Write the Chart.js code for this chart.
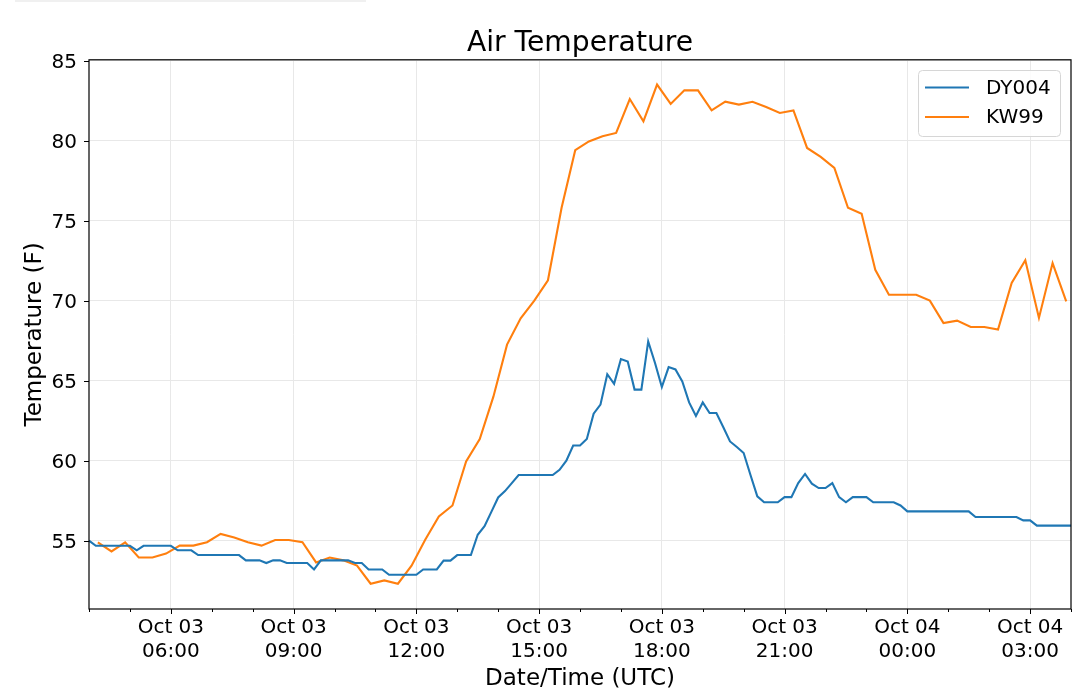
<!DOCTYPE html>
<html>
<head>
<meta charset="utf-8">
<title>Air Temperature</title>
<script src="https://cdn.jsdelivr.net/npm/chart.js@4.4.0/dist/chart.umd.min.js"></script>
<style>
html, body { margin: 0; padding: 0; background: #fff; }
#wrap { position: relative; width: 1080px; height: 694px; }
#strip { position: absolute; left: 15px; top: 0; width: 351px; height: 2px; background: #f0f0f0; }
canvas { position: absolute; left: 0; top: 0; }
</style>
</head>
<body>
<div id="wrap">
  <div id="strip"></div>
  <canvas id="temp-chart" width="1080" height="694"></canvas>
</div>
<script>
// station names
const stations = ['DY004', 'KW99'];
const chartTitle = 'Air Temperature';

// sampling: hours since Oct 03 00:00 UTC of first sample, minutes between samples
const dyStart = 4, dyStepMin = 10;
const kwStart = 4 + 13 / 60, kwStepMin = 20;

// DY004 air temperature (F), every 10 min from 04:00
const dyTemps = [
    55.0, 54.68, 54.68, 54.68, 54.68, 54.68, 54.68, 54.4, 54.68, 54.68,
    54.68, 54.68, 54.68, 54.4, 54.4, 54.4, 54.1, 54.1, 54.1, 54.1,
    54.1, 54.1, 54.1, 53.77, 53.77, 53.77, 53.6, 53.77, 53.77, 53.6,
    53.6, 53.6, 53.6, 53.2, 53.77, 53.77, 53.77, 53.77, 53.77, 53.6,
    53.6, 53.2, 53.2, 53.2, 52.87, 52.87, 52.87, 52.87, 52.87, 53.2,
    53.2, 53.2, 53.75, 53.75, 54.1, 54.1, 54.1, 55.37, 55.9, 56.8,
    57.7, 58.1, 58.6, 59.1, 59.1, 59.1, 59.1, 59.1, 59.1, 59.43,
    60.0, 60.95, 60.95, 61.35, 62.94, 63.5, 65.4, 64.8, 66.35, 66.2,
    64.44, 64.44, 67.45, 66.1, 64.6, 65.85, 65.7, 64.95, 63.64, 62.8,
    63.64, 62.98, 62.98, 62.1, 61.2, 60.85, 60.48, 59.1, 57.77, 57.4,
    57.4, 57.4, 57.72, 57.72, 58.6, 59.17, 58.56, 58.29, 58.29, 58.6,
    57.72, 57.4, 57.72, 57.72, 57.72, 57.4, 57.4, 57.4, 57.4, 57.2,
    56.83, 56.83, 56.83, 56.83, 56.83, 56.83, 56.83, 56.83, 56.83, 56.83,
    56.48, 56.48, 56.48, 56.48, 56.48, 56.48, 56.48, 56.27, 56.27, 55.94,
    55.94, 55.94, 55.94, 55.94, 55.94
];

// KW99 air temperature (F), every 20 min from 04:13
const kwTemps = [
    54.9, 54.33, 54.9, 53.95, 53.95, 54.19, 54.69, 54.69, 54.9, 55.42,
    55.2, 54.9, 54.69, 55.04, 55.04, 54.9, 53.64, 53.95, 53.77, 53.44,
    52.31, 52.52, 52.31, 53.44, 55.06, 56.52, 57.2, 59.95, 61.35, 64.0,
    67.25, 68.9, 70.0, 71.27, 75.8, 79.4, 79.95, 80.27, 80.48, 82.6,
    81.2, 83.5, 82.29, 83.14, 83.14, 81.89, 82.43, 82.25, 82.43, 82.1,
    81.73, 81.89, 79.54, 78.98, 78.29, 75.8, 75.43, 71.93, 70.37, 70.37,
    70.37, 70.0, 68.6, 68.75, 68.35, 68.35, 68.19, 71.1, 72.52, 68.92,
    72.35, 69.95
];

// axes
const xHours = [4, 5, 6, 7, 8, 9, 10, 11, 12, 13, 14, 15, 16, 17, 18, 19, 20, 21, 22, 23, 24, 25, 26, 27, 28];
const xTickHours = [6, 9, 12, 15, 18, 21, 24, 27];
const xTickLabels = [
    ['Oct 03', '06:00'], ['Oct 03', '09:00'], ['Oct 03', '12:00'], ['Oct 03', '15:00'],
    ['Oct 03', '18:00'], ['Oct 03', '21:00'], ['Oct 04', '00:00'], ['Oct 04', '03:00']
];
const yTicks = [55, 60, 65, 70, 75, 80, 85];

const FONT = 'DejaVu Sans';
const GRID = '#e8e8e8';

function toPoints(start, stepMin, temps) {
    return temps.map((t, i) => ({x: start + i * stepMin / 60, y: t}));
}

// spines, tick marks and the title centred over the plot area
const framePlugin = {
    id: 'frame',
    afterDraw(chart) {
        const {ctx, chartArea: a, scales: {x, y}} = chart;
        ctx.save();
        ctx.strokeStyle = '#000';
        ctx.lineWidth = 1.2;
        ctx.strokeRect(a.left, a.top, a.right - a.left, a.bottom - a.top);
        ctx.lineWidth = 1;
        ctx.beginPath();
        xHours.forEach(h => {
            const px = Math.round(x.getPixelForValue(h)) + 0.5;
            const len = xTickHours.includes(h) ? 5 : 3;
            ctx.moveTo(px, a.bottom);
            ctx.lineTo(px, a.bottom + len);
        });
        yTicks.forEach(v => {
            const py = Math.round(y.getPixelForValue(v)) + 0.5;
            ctx.moveTo(a.left - 5, py);
            ctx.lineTo(a.left, py);
        });
        ctx.stroke();

        ctx.font = '28.2px "' + FONT + '"';
        ctx.fillStyle = '#000';
        ctx.textAlign = 'center';
        ctx.textBaseline = 'middle';
        ctx.fillText(chartTitle, (a.left + a.right) / 2, 43.6);
        ctx.restore();
    }
};

// legend box in the upper right corner of the plot
const boxLegend = {
    id: 'boxLegend',
    afterDraw(chart) {
        const ctx = chart.ctx;
        const bx = 918.5, by = 70.5, bw = 142, bh = 66, r = 4;
        ctx.save();
        ctx.beginPath();
        ctx.moveTo(bx + r, by);
        ctx.arcTo(bx + bw, by, bx + bw, by + bh, r);
        ctx.arcTo(bx + bw, by + bh, bx, by + bh, r);
        ctx.arcTo(bx, by + bh, bx, by, r);
        ctx.arcTo(bx, by, bx + bw, by, r);
        ctx.closePath();
        ctx.fillStyle = 'rgba(255,255,255,0.85)';
        ctx.fill();
        ctx.strokeStyle = '#d6d6d6';
        ctx.lineWidth = 1;
        ctx.stroke();

        ctx.font = '20px "' + FONT + '"';
        ctx.textBaseline = 'middle';
        ctx.fillStyle = '#000';
        const rows = [87.5, 117];
        chart.data.datasets.forEach((ds, i) => {
            ctx.strokeStyle = ds.borderColor;
            ctx.lineWidth = 2;
            ctx.beginPath();
            ctx.moveTo(925, rows[i]);
            ctx.lineTo(969, rows[i]);
            ctx.stroke();
            ctx.fillText(ds.label, 986, rows[i] + 1.2);
        });
        ctx.restore();
    }
};

new Chart(document.getElementById('temp-chart'), {
    type: 'line',
    data: {
        datasets: [
            {
                label: stations[0],
                data: toPoints(dyStart, dyStepMin, dyTemps),
                borderColor: '#1f77b4',
                borderWidth: 2.1,
                pointRadius: 0,
                tension: 0,
                fill: false
            },
            {
                label: stations[1],
                data: toPoints(kwStart, kwStepMin, kwTemps),
                borderColor: '#ff7f0e',
                borderWidth: 2.1,
                pointRadius: 0,
                tension: 0,
                fill: false
            }
        ]
    },
    options: {
        responsive: false,
        animation: false,
        devicePixelRatio: 1,
        layout: {padding: {left: 0, right: 9, top: 59.8, bottom: 0}},
        plugins: {
            legend: {display: false},
            tooltip: {enabled: false},
            title: {display: false}
        },
        scales: {
            x: {
                type: 'linear',
                min: 4,
                max: 28,
                afterBuildTicks: s => { s.ticks = xHours.map(v => ({value: v})); },
                afterFit: s => { s.height = 85; },
                ticks: {
                    autoSkip: false,
                    maxRotation: 0,
                    minRotation: 0,
                    padding: 7,
                    color: '#000',
                    font: {family: FONT, size: 20, lineHeight: 1.2},
                    callback: v => {
                        const i = xTickHours.indexOf(v);
                        return i < 0 ? '' : xTickLabels[i];
                    }
                },
                grid: {
                    drawTicks: false,
                    lineWidth: 1,
                    color: c => (c.tick && xTickHours.includes(c.tick.value)) ? GRID : 'rgba(0,0,0,0)'
                },
                border: {display: false},
                title: {
                    display: true,
                    text: 'Date/Time (UTC)',
                    color: '#000',
                    font: {family: FONT, size: 23, lineHeight: 1.2},
                    padding: {top: 0, bottom: 1.1}
                }
            },
            y: {
                min: 50.73,
                max: 85.05,
                afterBuildTicks: s => { s.ticks = yTicks.map(v => ({value: v})); },
                afterFit: s => { s.width = 89; },
                ticks: {
                    padding: 12,
                    labelOffset: 2,
                    color: '#000',
                    font: {family: FONT, size: 20}
                },
                grid: {drawTicks: false, lineWidth: 1, color: GRID},
                border: {display: false},
                title: {
                    display: true,
                    text: 'Temperature (F)',
                    color: '#000',
                    font: {family: FONT, size: 23, lineHeight: 1.2},
                    padding: {top: 21.6, bottom: 0}
                }
            }
        }
    },
    plugins: [framePlugin, boxLegend]
});
</script>
</body>
</html>
